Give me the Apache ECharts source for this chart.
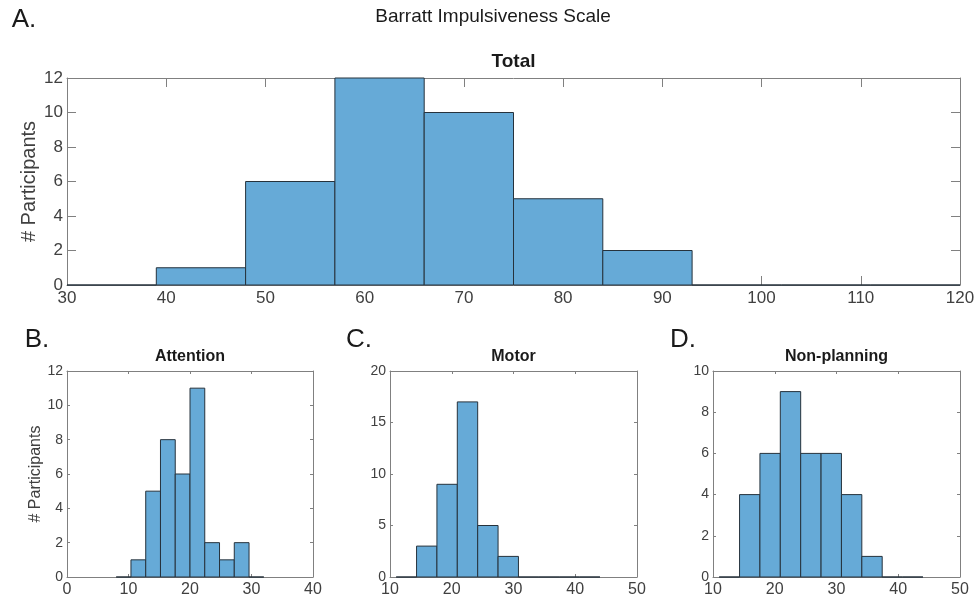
<!DOCTYPE html>
<html>
<head>
<meta charset="utf-8">
<script src="https://cdn.jsdelivr.net/npm/echarts@6/dist/echarts.min.js"></script>
<style>
  html, body { margin: 0; padding: 0; background: #fff; }
  #chart { width: 979px; height: 599px; }
</style>
</head>
<body>
<div id="chart"></div>
<script>
// bin edges and counts
const totalEdges = [30, 39, 48, 57, 66, 75, 84, 93, 102, 111, 120];
const totalCounts = [0, 1, 6, 12, 10, 5, 2, 0, 0, 0];

const attentionEdges = [8, 10.4, 12.8, 15.2, 17.6, 20, 22.4, 24.8, 27.2, 29.6, 32];
const attentionCounts = [0, 1, 5, 8, 6, 11, 2, 1, 2, 0];

const motorEdges = [11, 14.3, 17.6, 20.9, 24.2, 27.5, 30.8, 34.1, 37.4, 40.7, 44];
const motorCounts = [0, 3, 9, 17, 5, 2, 0, 0, 0, 0];

const nonPlanningEdges = [11, 14.3, 17.6, 20.9, 24.2, 27.5, 30.8, 34.1, 37.4, 40.7, 44];
const nonPlanningCounts = [0, 4, 6, 9, 6, 6, 4, 1, 0, 0];

const FONT = 'Liberation Sans';
const boxColor = '#808080';
const labelColor = '#404040';
const barFill = '#66aad7';
const barEdge = '#26323c';

function bins(edges, counts) {
  return counts.map((c, i) => [edges[i], edges[i + 1], c]);
}

function renderBin(params, api) {
  const p0 = api.coord([api.value(0), api.value(2)]);
  const p1 = api.coord([api.value(1), 0]);
  return {
    type: 'rect',
    shape: { x: p0[0], y: p0[1], width: p1[0] - p0[0], height: p1[1] - p0[1] },
    style: { fill: barFill, stroke: barEdge, lineWidth: 1 }
  };
}

// panels: grid box + axis ranges
const panels = [
  { grid: { left: 67, top: 78, width: 893, height: 207 }, x: [30, 120, 10], y: [0, 12, 2],
    tick: 9, xFont: 17, yFont: 17, yName: '# Participants', nameSize: 20, nameGap: 28, data: bins(totalEdges, totalCounts) },
  { grid: { left: 67, top: 371, width: 246, height: 206 }, x: [0, 40, 10], y: [0, 12, 2],
    tick: 3, xFont: 16, yFont: 14, yName: '# Participants', nameSize: 16, nameGap: 23, data: bins(attentionEdges, attentionCounts) },
  { grid: { left: 390, top: 371, width: 247, height: 206 }, x: [10, 50, 10], y: [0, 20, 5],
    tick: 3, xFont: 16, yFont: 14, yName: '', data: bins(motorEdges, motorCounts) },
  { grid: { left: 713, top: 371, width: 247, height: 206 }, x: [10, 50, 10], y: [0, 10, 2],
    tick: 3, xFont: 16, yFont: 14, yName: '', data: bins(nonPlanningEdges, nonPlanningCounts) }
];

const grids = [], xAxes = [], yAxes = [], series = [];
panels.forEach((p, i) => {
  grids.push(p.grid);
  const line = { show: true, onZero: false, lineStyle: { color: boxColor, width: 1 } };
  const tick = { show: true, inside: true, length: p.tick, lineStyle: { color: boxColor } };
  // bottom / left with labels
  xAxes.push({
    type: 'value', gridIndex: i, position: 'bottom', min: p.x[0], max: p.x[1], interval: p.x[2],
    axisLine: line, axisTick: tick, splitLine: { show: false },
    axisLabel: { color: labelColor, fontFamily: FONT, fontSize: p.xFont, margin: 5 }
  });
  yAxes.push({
    type: 'value', gridIndex: i, position: 'left', min: p.y[0], max: p.y[1], interval: p.y[2],
    axisLine: line, axisTick: tick, splitLine: { show: false },
    axisLabel: { color: labelColor, fontFamily: FONT, fontSize: p.yFont, margin: 4 },
    name: p.yName, nameLocation: 'middle', nameGap: p.nameGap || 20, nameMoveOverlap: false,
    nameTextStyle: { color: labelColor, fontFamily: FONT, fontSize: p.nameSize || 16 }
  });
  // top / right mirror axes for the box
  xAxes.push({
    type: 'value', gridIndex: i, position: 'top', min: p.x[0], max: p.x[1], interval: p.x[2],
    axisLine: line, axisTick: tick, axisLabel: { show: false }, splitLine: { show: false }
  });
  yAxes.push({
    type: 'value', gridIndex: i, position: 'right', min: p.y[0], max: p.y[1], interval: p.y[2],
    axisLine: line, axisTick: tick, axisLabel: { show: false }, splitLine: { show: false }
  });
  series.push({
    type: 'custom', xAxisIndex: i * 2, yAxisIndex: i * 2, clip: false,
    renderItem: renderBin, encode: { x: [0, 1], y: 2 }, data: p.data
  });
});

function txt(x, y, text, size, weight) {
  return {
    type: 'text', x: x, y: y,
    style: { text: text, fontFamily: FONT, fontSize: size, fontWeight: weight || 'normal',
      fill: '#1a1a1a', align: 'center', verticalAlign: 'middle' }
  };
}

const chart = echarts.init(document.getElementById('chart'));
chart.setOption({
  animation: false,
  backgroundColor: '#fff',
  grid: grids,
  xAxis: xAxes,
  yAxis: yAxes,
  series: series,
  graphic: [
    txt(493, 17, 'Barratt Impulsiveness Scale', 19),
    txt(24, 20, 'A.', 26),
    txt(37, 340, 'B.', 26),
    txt(359, 340, 'C.', 26),
    txt(683, 340, 'D.', 26),
    txt(513.5, 62, 'Total', 19, 'bold'),
    txt(190, 357, 'Attention', 16, 'bold'),
    txt(513.5, 357, 'Motor', 16, 'bold'),
    txt(836.5, 357, 'Non-planning', 16, 'bold')
  ]
});
</script>
</body>
</html>
